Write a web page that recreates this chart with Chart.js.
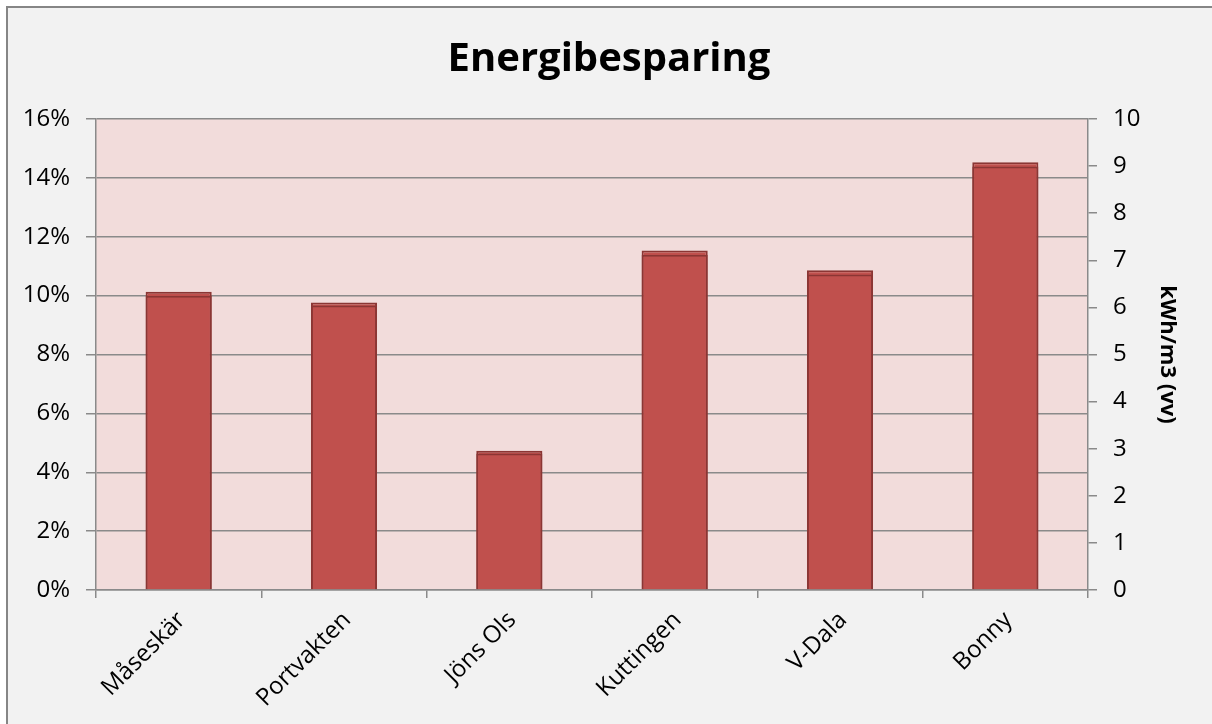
<!DOCTYPE html>
<html>
<head>
<meta charset="utf-8">
<script src="https://cdn.jsdelivr.net/npm/chart.js@4"></script>
<style>
  html, body { margin: 0; padding: 0; background: #fff; }
  #wrap { width: 1212px; height: 724px; }
</style>
</head>
<body>
<div id="wrap"><canvas id="chart" width="1212" height="724"></canvas></div>
<script>
// data
const categories = ['Måseskär', 'Portvakten', 'Jöns Ols', 'Kuttingen', 'V-Dala', 'Bonny'];
const savingPercent = [10.13, 9.77, 4.73, 11.53, 10.86, 14.53];
const savingKwh = [6.25, 6.04, 2.90, 7.12, 6.70, 8.99];
const percentTicks = { min: 0, max: 16, step: 2 };
const kwhTicks = { min: 0, max: 10, step: 1 };

const FONT = '"Open Sans", "DejaVu Sans", sans-serif';
const GRID = '#8a8a8a';
const BAR = '#c0504d';
const BAR_EDGE = '#8b3634';

// background, outer frame and plot area fill
const backdrop = {
  id: 'backdrop',
  beforeDraw(chart) {
    const { ctx, chartArea: a } = chart;
    ctx.save();
    ctx.fillStyle = '#ffffff';
    ctx.fillRect(0, 0, chart.width, chart.height);
    ctx.fillStyle = '#f2f2f2';
    ctx.fillRect(7, 7, chart.width, chart.height);
    ctx.strokeStyle = '#868686';
    ctx.lineWidth = 2;
    ctx.beginPath();
    ctx.moveTo(7, chart.height);
    ctx.lineTo(7, 7);
    ctx.lineTo(chart.width, 7);
    ctx.stroke();
    ctx.fillStyle = '#f2dcdb';
    ctx.fillRect(a.left, a.top, a.right - a.left, a.bottom - a.top);
    ctx.restore();
  }
};

new Chart(document.getElementById('chart').getContext('2d'), {
  type: 'bar',
  data: {
    labels: categories,
    datasets: [
      {
        label: 'Besparing %',
        data: savingPercent,
        yAxisID: 'y',
        backgroundColor: BAR,
        borderColor: BAR_EDGE,
        borderWidth: 2,
        grouped: false,
        order: 2,
        barPercentage: 0.4,
        categoryPercentage: 1
      },
      {
        label: 'kWh/m3 (vv)',
        data: savingKwh,
        yAxisID: 'y1',
        backgroundColor: BAR,
        borderColor: BAR_EDGE,
        borderWidth: 2,
        grouped: false,
        order: 1,
        barPercentage: 0.4,
        categoryPercentage: 1
      }
    ]
  },
  options: {
    responsive: false,
    animation: false,
    layout: { padding: { left: 6, right: 0, top: 0, bottom: 0 } },
    plugins: {
      legend: { display: false },
      tooltip: { enabled: false },
      title: {
        display: true,
        text: 'Energibesparing',
        color: '#000',
        font: { family: FONT, size: 40, weight: 'bold', lineHeight: 1.2 },
        padding: { top: 36, bottom: 35 }
      }
    },
    scales: {
      x: {
        offset: true,
        afterFit(scale) { scale.height = 134; },
        grid: { offset: true, drawOnChartArea: false, color: GRID, lineWidth: 1.5, tickLength: 8 },
        border: { color: GRID, width: 1.5 },
        ticks: {
          color: '#000',
          font: { family: FONT, size: 24 },
          minRotation: 45,
          maxRotation: 45,
          padding: 8,
          labelOffset: 3
        }
      },
      y: {
        position: 'left',
        min: percentTicks.min,
        max: percentTicks.max,
        afterFit(scale) { scale.width = 90; },
        grid: { color: GRID, lineWidth: 1.5, tickLength: 10 },
        border: { color: GRID, width: 1.5 },
        ticks: {
          stepSize: percentTicks.step,
          color: '#000',
          font: { family: FONT, size: 24 },
          padding: 16,
          callback: (v) => v + '%'
        }
      },
      y1: {
        position: 'right',
        min: kwhTicks.min,
        max: kwhTicks.max,
        afterFit(scale) { scale.width = 124; },
        grid: { drawOnChartArea: false, color: GRID, lineWidth: 1.5, tickLength: 9 },
        border: { color: GRID, width: 1.5 },
        ticks: {
          stepSize: kwhTicks.step,
          color: '#000',
          font: { family: FONT, size: 24 },
          padding: 16
        },
        title: {
          display: true,
          text: 'kWh/m3 (vv)',
          color: '#000',
          font: { family: FONT, size: 22, weight: 'bold' },
          padding: { top: 32, bottom: 4 }
        }
      }
    }
  },
  plugins: [backdrop]
});
</script>
</body>
</html>
